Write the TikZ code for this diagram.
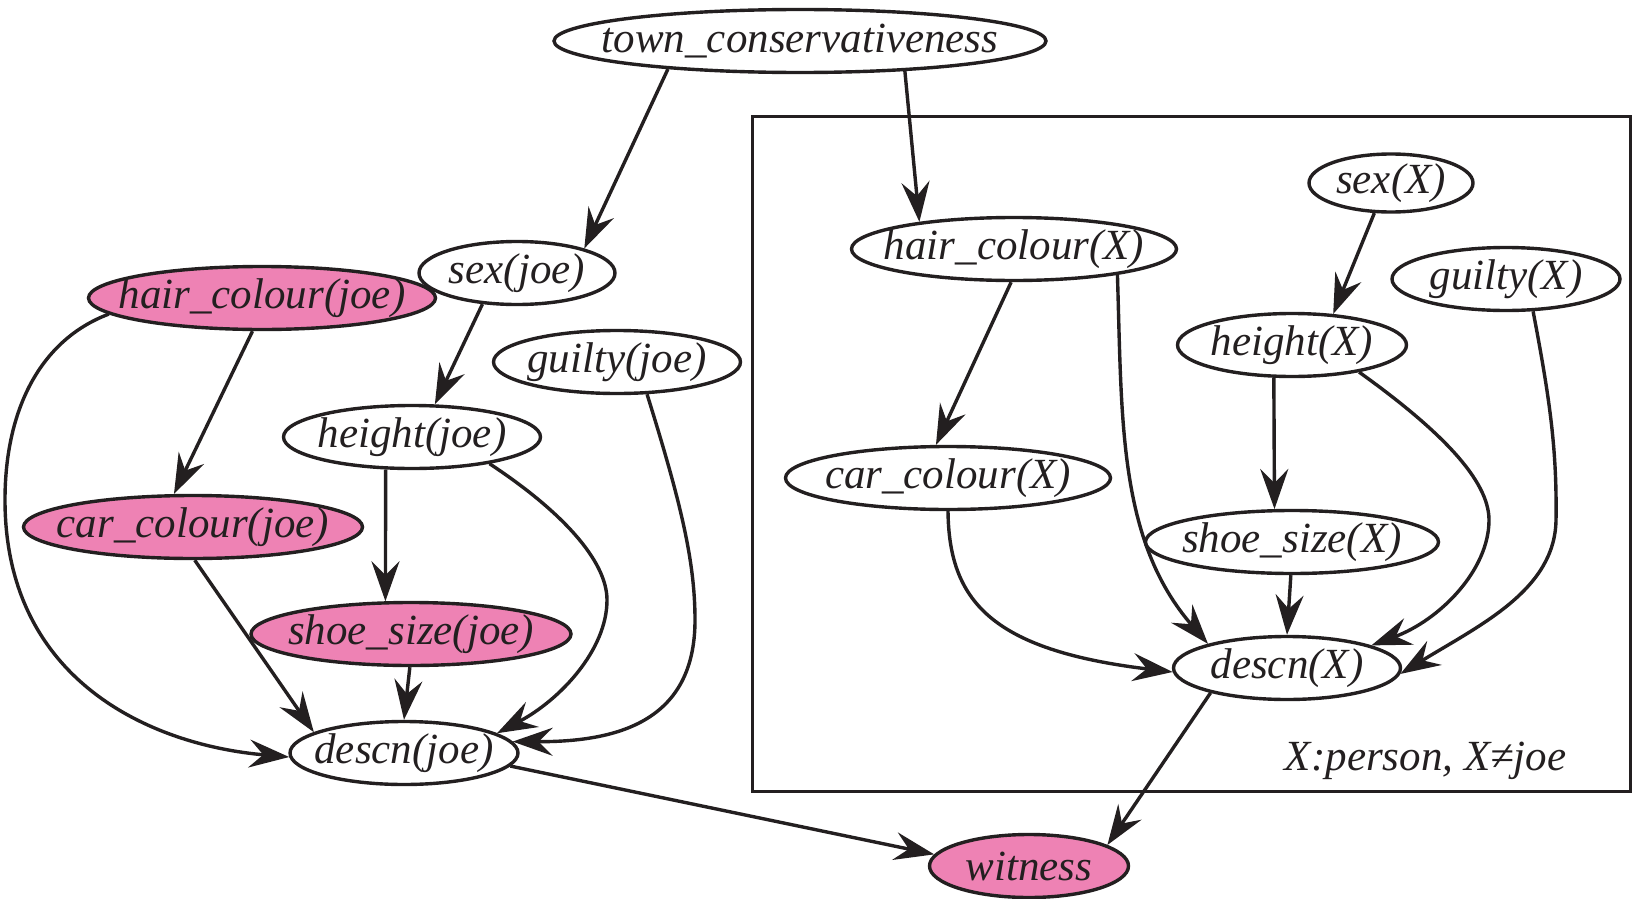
\documentclass[tikz,border=0pt]{standalone}
\usepackage{fontspec}
\setmainfont{Liberation Serif}
\usetikzlibrary{shapes.geometric,arrows.meta}
\definecolor{ink}{HTML}{231F20}
\definecolor{pinkf}{HTML}{EE82B4}
\newcommand\ctext[1]{\makebox[0pt]{#1}}
\begin{document}
\begin{tikzpicture}[x=1pt,y=-1pt,
  ell/.style={ellipse, draw=ink, line width=3.4pt, inner sep=0pt, minimum height=63pt,
    text=ink, font=\fontsize{43pt}{50pt}\selectfont\itshape},
  obs/.style={ell, fill=pinkf},
  plate/.style={draw=ink, line width=3.2pt, inner sep=0pt},
  arr/.style={draw=ink, line width=3.4pt, -{Stealth[length=40pt,width=28pt,inset=14pt]}},
]
\useasboundingbox (0,0) rectangle (1635,899);
% plate
\node[plate, minimum width=878pt, minimum height=675pt] (plate) at (1191.5,454) {};
\node[anchor=base east, text=ink, font=\fontsize{43pt}{50pt}\selectfont\itshape] (plabel) at (1570,770) {X:person, X≠joe};
% nodes
\node[ell, minimum width=492pt] (tc) at (800,41) {\ctext{town\_conservativeness}};
\node[ell, minimum width=196pt] (sexj) at (517,273) {\ctext{sex(joe)}};
\node[obs, minimum width=347pt] (hairj) at (262,298) {\ctext{hair\_colour(joe)}};
\node[ell, minimum width=247pt] (guiltyj) at (617,362) {\ctext{guilty(joe)}};
\node[ell, minimum width=257pt] (heightj) at (412,437) {\ctext{height(joe)}};
\node[obs, minimum width=339pt] (carj) at (193,527) {\ctext{car\_colour(joe)}};
\node[obs, minimum width=320pt] (shoej) at (411,634) {\ctext{shoe\_size(joe)}};
\node[ell, minimum width=228pt] (descnj) at (404,753) {\ctext{descn(joe)}};
\node[obs, minimum width=199pt] (witness) at (1029,866) {\ctext{witness}};
\node[ell, minimum width=325pt] (hairX) at (1014,249) {\ctext{hair\_colour(X)}};
\node[ell, minimum width=164pt, minimum height=58pt] (sexX) at (1391,183) {\ctext{sex(X)}};
\node[ell, minimum width=228pt] (guiltyX) at (1506,279) {\ctext{guilty(X)}};
\node[ell, minimum width=229pt] (heightX) at (1292,345) {\ctext{height(X)}};
\node[ell, minimum width=325pt] (carX) at (948,478) {\ctext{car\_colour(X)}};
\node[ell, minimum width=293pt] (shoeX) at (1292,542) {\ctext{shoe\_size(X)}};
\node[ell, minimum width=227pt] (descnX) at (1287,668) {\ctext{descn(X)}};
% edges (joe)
\draw[arr] (tc.192) -- (sexj.20);
\draw[arr] (tc.-16) -- (hairX.164);
\draw[arr] (sexj.222) -- (heightj.55);
\draw[arr] (hairj.254) -- (carj.120);
\draw[arr] (hairj.186) .. controls (40,340) and (5,410) .. (5,500)
  .. controls (5,680) and (150,745) .. (descnj.182);
\draw[arr] (heightj.231) -- (shoej.128);
\draw[arr] (heightj.-19) .. controls (560,510) and (607,560) .. (607,600)
  .. controls (607,650) and (560,700) .. (descnj.12);
\draw[arr] (carj.273) -- (descnj.167);
\draw[arr] (shoej.268) -- (descnj.north);
\draw[arr] (guiltyj.-47) .. controls (680,500) and (695,560) .. (695,620)
  .. controls (695,720) and (620,742) .. (descnj.6);
\draw[arr] (descnj.-7) -- (witness.173);
% edges (X)
\draw[arr] (hairX.265) -- (carX.110);
\draw[arr] (hairX.-14) .. controls (1122,420) and (1118,540) .. (descnX.163);
\draw[arr] (carX.south) .. controls (949,600) and (990,650) .. (descnX.182);
\draw[arr] (sexX.241) -- (heightX.37);
\draw[arr] (heightX.241) -- (shoeX.118);
\draw[arr] (heightX.-22) .. controls (1440,430) and (1489,480) .. (1489,520)
  .. controls (1489,570) and (1440,620) .. (descnX.15);
\draw[arr] (shoeX.268) -- (descnX.north);
\draw[arr] (guiltyX.-50) .. controls (1550,400) and (1557,450) .. (1556,520)
  .. controls (1555,590) and (1480,625) .. (descnX.-3);
\draw[arr] (descnX.198) -- (witness.15);
\end{tikzpicture}
\end{document}
